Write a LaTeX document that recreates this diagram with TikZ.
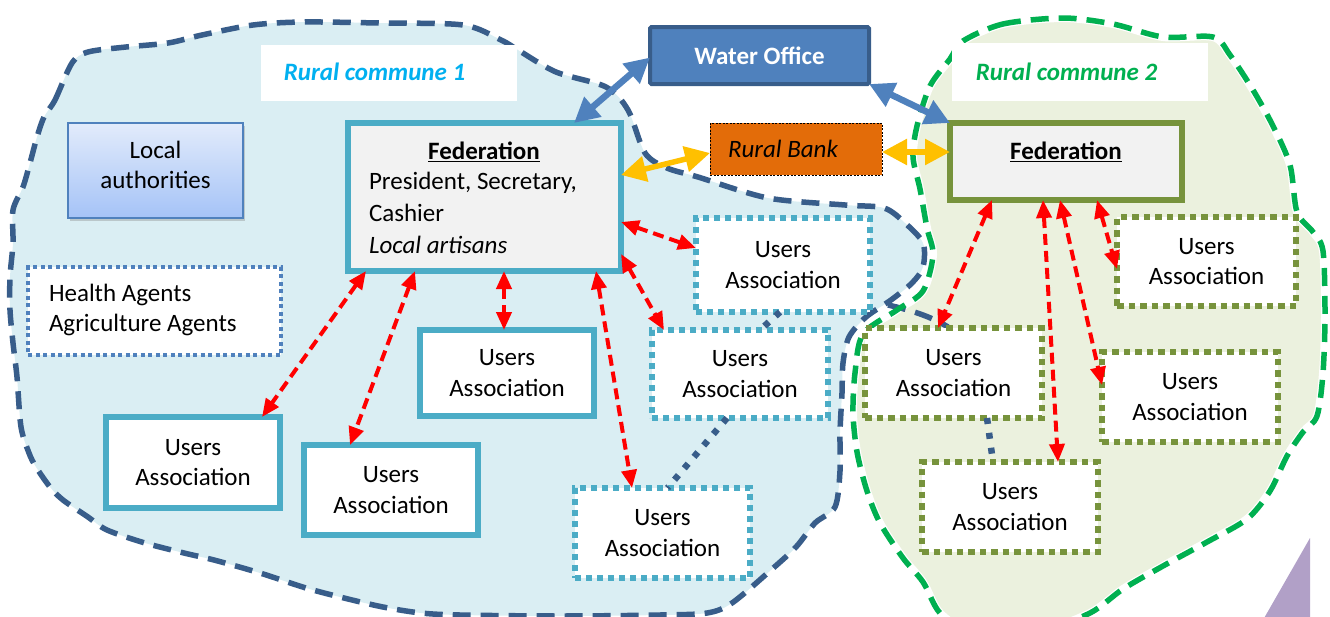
\documentclass[tikz,border=0pt]{standalone}
\usepackage{fontspec}
\setmainfont{Carlito}
\usetikzlibrary{arrows.meta,calc,shadows}
\definecolor{cfill}{HTML}{DAEEF3}
\definecolor{cline}{HTML}{385D8A}
\definecolor{gfill}{HTML}{EBF1DE}
\definecolor{gline}{HTML}{00B050}
\definecolor{cyanb}{HTML}{4BACC6}
\definecolor{oliveb}{HTML}{77933C}
\definecolor{steel}{HTML}{4F81BD}
\definecolor{orangeb}{HTML}{E36C09}
\definecolor{yellowb}{HTML}{FFC000}
\definecolor{fedfill}{HTML}{F2F2F2}
\definecolor{purpleb}{HTML}{B1A0C7}
\definecolor{labcyan}{HTML}{00B0F0}
\definecolor{redb}{HTML}{FF0000}
\definecolor{latop}{HTML}{E2EBFB}
\definecolor{labot}{HTML}{A5C3F7}
\newcommand\bigf{\fontsize{25}{30.5}\selectfont}
\begin{document}
\begin{tikzpicture}[x=1pt,y=-1pt,
  every node/.style={inner sep=0pt, outer sep=0pt},
  box/.style={minimum width=174pt, minimum height=88pt, align=center, font=\bigf, fill=white},
  solidua/.style={box, draw=cyanb, line width=5.5pt},
  dotcyan/.style={box, draw=cyanb, line width=6pt, dash pattern=on 6pt off 5pt},
  dotolive/.style={box, draw=oliveb, line width=6.5pt, dash pattern=on 6.5pt off 5pt},
  redarr/.style={draw=redb, line width=4pt, dash pattern=on 11pt off 6pt,
     {Triangle[length=18pt,width=15pt]}-{Triangle[length=18pt,width=15pt]}},
  bluearr/.style={draw=steel, line width=6.5pt,
     {Triangle[length=25pt,width=25pt]}-{Triangle[length=25pt,width=25pt]}},
  yelarr/.style={draw=yellowb, line width=5.5pt,
     {Triangle[length=25pt,width=25pt]}-{Triangle[length=25pt,width=25pt]}},
  dotlink/.style={draw=cline, line width=6.5pt, dash pattern=on 6pt off 9pt},
  bound/.style={line width=5.5pt, dash pattern=on 18pt off 10pt},
  labtext/.style={font=\bigf\bfseries\itshape}
]
\useasboundingbox (0,0) rectangle (1330,616);
\clip (0,0) rectangle (1330,616);

% commune 1 region
\fill[cfill] plot[smooth cycle, tension=0.5] coordinates {
 (44,117) (55,100) (72,63) (88,52) (126,47) (168,43) (202,35) (253,25) (303,22) (379,23)
 (463,25) (501,40) (518,50) (556,72) (606,87) (628,110) (645,153) (667,168) (698,177)
 (768,198) (845,205) (884,208) (905,223) (923,243) (923,267) (912,283) (891,300) (866,317)
 (849,337) (843,363) (842,393) (840,432) (840,471) (835,507) (815,523) (796,547) (771,570)
 (732,603) (707,613) (660,615) (560,616) (460,615) (421,613) (383,607) (344,598) (306,588)
 (260,573) (214,560) (184,553) (145,543) (107,530) (88,517) (63,500) (50,487) (36,467)
 (29,453) (21,427) (17,377) (13,343) (10,310) (10,277) (13,243) (13,210) (23,187) (30,163) (37,137)};

% commune 2 region
\filldraw[gfill, draw=white, line width=8pt] plot[smooth cycle, tension=0.5] coordinates {
 (963,41) (1003,24) (1063,18) (1113,24) (1163,37) (1213,37) (1230,55) (1253,90) (1273,126)
 (1290,165) (1297,212) (1313,232) (1323,251) (1325,314) (1323,373) (1317,416) (1303,432)
 (1287,456) (1270,491) (1247,519) (1207,542) (1163,566) (1123,589) (1090,613) (1040,630)
 (970,630) (940,613) (923,582) (903,558) (880,523) (867,491) (857,452) (853,413) (855,373)
 (863,334) (897,310) (923,291) (933,255) (927,228) (920,189) (913,157) (917,126) (930,86) (950,59)};

% commune 1 boundary
\draw[bound, cline] plot[smooth cycle, tension=0.5] coordinates {
 (44,117) (55,100) (72,63) (88,52) (126,47) (168,43) (202,35) (253,25) (303,22) (379,23)
 (463,25) (501,40) (518,50) (556,72) (606,87) (628,110) (645,153) (667,168) (698,177)
 (768,198) (845,205) (884,208) (905,223) (923,243) (923,267) (912,283) (891,300) (866,317)
 (849,337) (843,363) (842,393) (840,432) (840,471) (835,507) (815,523) (796,547) (771,570)
 (732,603) (707,613) (660,615) (560,616) (460,615) (421,613) (383,607) (344,598) (306,588)
 (260,573) (214,560) (184,553) (145,543) (107,530) (88,517) (63,500) (50,487) (36,467)
 (29,453) (21,427) (17,377) (13,343) (10,310) (10,277) (13,243) (13,210) (23,187) (30,163) (37,137)};
\draw[bound, cline] (888,305) .. controls (910,310) and (930,316) .. (948,327);

% commune 2 boundary
\draw[bound, gline] plot[smooth cycle, tension=0.5] coordinates {
 (963,41) (1003,24) (1063,18) (1113,24) (1163,37) (1213,37) (1230,55) (1253,90) (1273,126)
 (1290,165) (1297,212) (1313,232) (1323,251) (1325,314) (1323,373) (1317,416) (1303,432)
 (1287,456) (1270,491) (1247,519) (1207,542) (1163,566) (1123,589) (1090,613) (1040,630)
 (970,630) (940,613) (923,582) (903,558) (880,523) (867,491) (857,452) (853,413) (855,373)
 (863,334) (897,310) (923,291) (933,255) (927,228) (920,189) (913,157) (917,126) (930,86) (950,59)};

% purple corner
\fill[purpleb] (1310,538) -- (1310,620) -- (1263,620) -- cycle;

% label boxes
\node[fill=white, minimum width=256pt, minimum height=56pt] (lab1) at (389,73) {};
\node[labtext, text=labcyan] (lab1t) at (374.5,72) {Rural commune 1};
\node[fill=white, minimum width=256pt, minimum height=58pt] (lab2) at (1080,72) {};
\node[labtext, text=gline] (lab2t) at (1066.5,72) {Rural commune 2};

% boxes
\node[draw=steel, line width=1.5pt, top color=latop, bottom color=labot,
      drop shadow={shadow xshift=2pt, shadow yshift=-3pt, opacity=0.35},
      minimum width=175pt, minimum height=95pt] (local) at (155.5,170.5) {};
\node[align=center, font=\bigf] (localt) at (155.5,165) {Local\\authorities};
\node[box, draw=steel, line width=4pt, dash pattern=on 4pt off 3.5pt,
      minimum width=253pt, minimum height=88pt] (health) at (154.5,311) {};
\node[anchor=west, align=left, font=\bigf] (healtht) at (49,310) {Health Agents\\Agriculture Agents};

\node[draw=cyanb, line width=5.5pt, fill=fedfill, minimum width=273pt, minimum height=148pt] (fed1) at (484.5,197) {};
\node[font=\bigf\bfseries] (fed1t) at (484,152) {\underline{Federation}};
\node[font=\bigf, anchor=west] (fed1a) at (369,183) {President, Secretary,};
\node[font=\bigf, anchor=west] (fed1b) at (369,213) {Cashier};
\node[font=\bigf\itshape, anchor=west] (fed1c) at (369,245) {Local artisans};

\node[draw=oliveb, line width=5.5pt, fill=fedfill, minimum width=232pt, minimum height=77pt] (fed2) at (1066,161.5) {};
\node[font=\bigf\bfseries] (fed2t) at (1066,152) {\underline{Federation}};

\node[draw=cline, line width=4pt, fill=steel, rounded corners=1.5pt, minimum width=219pt, minimum height=57pt,
      font=\bigf\bfseries, text=white] (water) at (759.5,55.5) {Water Office};
\node[draw=black, line width=0.8pt, dash pattern=on 2pt off 1.5pt, fill=orangeb, minimum width=172pt, minimum height=52pt] (bank) at (796,149) {};
\node[font=\bigf\itshape] (bankt) at (783,149) {Rural Bank};

\node[solidua, minimum height=86pt] (uaA) at (507,373) {Users\\Association};
\node[solidua, minimum height=91pt] (uaB) at (193,462.5) {Users\\Association};
\node[solidua, minimum height=90pt] (uaC) at (391,490) {Users\\Association};
\node[dotcyan, minimum height=94pt] (uaD) at (783,265) {Users\\Association};
\node[dotcyan, minimum width=176pt] (uaE) at (740,374) {Users\\Association};
\node[dotcyan, minimum width=175pt, minimum height=90pt] (uaF) at (662.5,533) {Users\\Association};
\node[dotolive, minimum width=179pt, minimum height=89pt] (uaG) at (1206.5,261.5) {Users\\Association};
\node[dotolive, minimum width=177pt, minimum height=90pt] (uaH) at (953.5,373) {Users\\Association};
\node[dotolive, minimum width=176pt, minimum height=90pt] (uaI) at (1190,397) {Users\\Association};
\node[dotolive, minimum width=176pt, minimum height=90pt] (uaJ) at (1010,507) {Users\\Association};

% dotted links between associations
\draw[dotlink] ([xshift=-3pt]uaD.south) -- ([xshift=20pt]uaE.north);
\draw[dotlink] ([xshift=-13pt]uaE.south) -- ([xshift=5pt]uaF.north);
\draw[dotlink] ([xshift=33.5pt]uaH.south) -- ([xshift=-17pt]uaJ.north);

% red arrows
\draw[redarr] ([xshift=18pt]fed1.south west) -- ([xshift=-18pt]uaB.north east);
\draw[redarr] ([xshift=67pt]fed1.south west) -- ([xshift=46pt]uaC.north west);
\draw[redarr] ([xshift=19.5pt]fed1.south) -- ([xshift=-3pt]uaA.north);
\draw[redarr] ([xshift=-25pt]fed1.south east) -- ([xshift=57pt]uaF.north west);
\draw[redarr] ([yshift=17pt]fed1.south east) -- ([xshift=12pt]uaE.north west);
\draw[redarr] ([yshift=49pt]fed1.south east) -- ([yshift=17pt]uaD.west);
\draw[redarr] ([xshift=42pt]fed2.south west) -- ([xshift=73pt]uaH.north west);
\draw[redarr] ([xshift=93pt]fed2.south west) -- ([xshift=136pt]uaJ.north west);
\draw[redarr] ([xshift=110pt]fed2.south west) -- ([yshift=12pt]uaI.west);
\draw[redarr] ([xshift=-85pt]fed2.south east) -- ([yshift=-7.5pt]uaG.west);

% blue arrows
\draw[bluearr] ([yshift=-2pt]water.west) -- ([xshift=-47pt]fed1.north east);
\draw[bluearr] (water.south east) -- (fed2.north west);

% yellow arrows
\draw[yelarr] ([yshift=22pt]fed1.east) -- ([yshift=-4pt]bank.west);
\draw[yelarr] ([yshift=-3pt]bank.east) -- ([yshift=9.5pt]fed2.west);
\end{tikzpicture}
\end{document}
